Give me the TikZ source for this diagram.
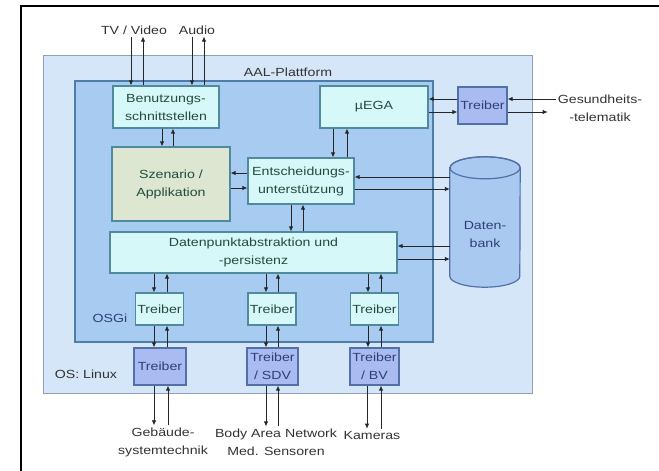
\documentclass[tikz,border=0pt]{standalone}
\usepackage{fontspec}
\setmainfont[FakeStretch=1.2]{Liberation Sans}
\usetikzlibrary{arrows.meta}
\definecolor{aalfill}{HTML}{D5E6F8}
\definecolor{aalline}{HTML}{8EA2B6}
\definecolor{osgifill}{HTML}{A8CCF1}
\definecolor{osgiline}{HTML}{4E7EA8}
\definecolor{boxfill}{HTML}{D6F8F8}
\definecolor{boxline}{HTML}{4F8A9E}
\definecolor{appfill}{HTML}{DCE6D1}
\definecolor{drvfill}{HTML}{A9BBF0}
\definecolor{drvline}{HTML}{5270A8}
\definecolor{dbfill}{HTML}{AAC9F1}
\definecolor{boxtext}{HTML}{244A40}
\definecolor{drvtext}{HTML}{2E3F78}
\definecolor{lbltext}{HTML}{333333}

\begin{document}
\begin{tikzpicture}[x=1pt, y=-1pt, font=\fontsize{11.8}{18}\selectfont,
    box/.style={draw=boxline, fill=boxfill, line width=1.2pt, inner sep=1pt, align=center, text=boxtext},
    drv/.style={draw=drvline, fill=drvfill, line width=1.2pt, inner sep=1pt, align=center, text=drvtext},
    lbl/.style={inner sep=2pt, align=center, text=lbltext},
    arr/.style={-{Latex[length=5pt,width=4.5pt]}, line width=0.8pt, draw=black!85}]
  \useasboundingbox (0,0) rectangle (659,471);
  % frame
  \draw[line width=2pt] (21,471) -- (21,6) -- (659,6);
  % platform layers
  \filldraw[fill=aalfill, draw=aalline, line width=1pt] (43,55) rectangle (532,393);
  \filldraw[fill=osgifill, draw=osgiline, line width=1.5pt] (75,81) rectangle (433,342);
  \node[lbl] (aal) at (288,72) {AAL-Plattform};
  \node[lbl, text=drvtext] (osgi) at (110,318) {OSGi};
  \node[lbl] (linux) at (86,374) {OS: Linux};

  % components
  \node[box, minimum width=106pt, minimum height=42pt] (benutz) at (166,107) {Benutzungs-\\schnittstellen};
  \node[box, fill=appfill, minimum width=118pt, minimum height=74pt] (szen) at (171,184) {Szenario /\\Applikation};
  \node[box, minimum width=106pt, minimum height=46pt] (entsch) at (301,181) {Entscheidungs-\\unterstützung};
  \node[box, minimum width=108pt, minimum height=42pt] (mega) at (374,107) {µEGA};
  \node[drv, minimum width=49pt, minimum height=37pt] (drvR) at (482.5,105.5) {Treiber};
  \node[box, minimum width=287pt, minimum height=41pt] (dpa) at (253.5,252.5) {Datenpunktabstraktion und\\-persistenz};
  \foreach \x/\name in {159.5/t1,272/t2,374.5/t3}{\node[box, minimum width=48pt, minimum height=32pt] (\name) at (\x,309) {Treiber};}
  \node[drv, minimum width=52pt, minimum height=37pt] (b1) at (160,366.5) {Treiber};
  \node[drv, minimum width=51pt, minimum height=37pt] (b2) at (272.5,366.5) {Treiber\\/ SDV};
  \node[drv, minimum width=49pt, minimum height=37pt] (b3) at (374.5,366.5) {Treiber\\/ BV};

  % database
  \node[minimum width=70pt, minimum height=130pt, inner sep=0pt] (db) at (485,222) {};
  \filldraw[fill=dbfill, draw=drvline, line width=1.2pt] ([yshift=-11pt]db.north west) -- ([yshift=11pt]db.south west)
    arc[start angle=180, end angle=360, x radius=35pt, y radius=11pt] -- ([yshift=-11pt]db.north east)
    arc[start angle=0, end angle=180, x radius=35pt, y radius=11pt] -- cycle;
  \draw[draw=drvline, line width=1.2pt] ([yshift=-11pt]db.north) ellipse[x radius=35pt, y radius=11pt];
  \node[lbl, text=drvtext] (dbtext) at ([yshift=-12pt]db.center) {Daten-\\bank};

  % outside labels
  \node[lbl] (tv) at (134,30) {TV / Video};
  \node[lbl] (audio) at (197,30) {Audio};
  \node[lbl] (ges) at (600,108) {Gesundheits-\\-telematik};
  \node[lbl] (geb) at (163,442) {Gebäude-\\systemtechnik};
  \node[lbl] (body) at (276,442) {Body Area Network\\Med. Sensoren};
  \node[lbl] (kam) at (372,435) {Kameras};

  % vertical connectors
  \foreach \x/\a/\b in {131/tv/benutz,192/audio/benutz,162/benutz/szen,333/mega/entsch,291/entsch/dpa,
      154/dpa/t1,266/dpa/t2,368/dpa/t3,154/t1/b1,266/t2/b2,368/t3/b3,154/b1/geb,266/b2/body,367/b3/kam}
    {\draw[arr] (\x,0 |- \a.south) -- (\x,0 |- \b.north);}
  \foreach \x/\a/\b in {143/tv/benutz,204/audio/benutz,173/benutz/szen,347/mega/entsch,303/entsch/dpa,
      167/dpa/t1,278/dpa/t2,381/dpa/t3,167/t1/b1,278/t2/b2,381/t3/b3,168/b1/geb,278/b2/body,381/b3/kam}
    {\draw[arr] (\x,0 |- \b.north) -- (\x,0 |- \a.south);}

  % horizontal connectors
  \draw[arr] (entsch.west |- 0,173) -- (szen.east |- 0,173);
  \draw[arr] (szen.east |- 0,188) -- (entsch.west |- 0,188);
  \draw[arr] (drvR.west |- 0,99) -- (mega.east |- 0,99);
  \draw[arr] (mega.east |- 0,112) -- (drvR.west |- 0,112);
  \draw[arr] (ges.west |- 0,99) -- (drvR.east |- 0,99);
  \draw[arr, shorten >=8pt] (drvR.east |- 0,112) -- (ges.west |- 0,112);
  \draw[arr] (db.west |- 0,177) -- (entsch.east |- 0,177);
  \draw[arr] (entsch.east |- 0,189) -- (db.west |- 0,189);
  \draw[arr] (db.west |- 0,246) -- (dpa.east |- 0,246);
  \draw[arr] (dpa.east |- 0,259) -- (db.west |- 0,259);
\end{tikzpicture}
\end{document}
